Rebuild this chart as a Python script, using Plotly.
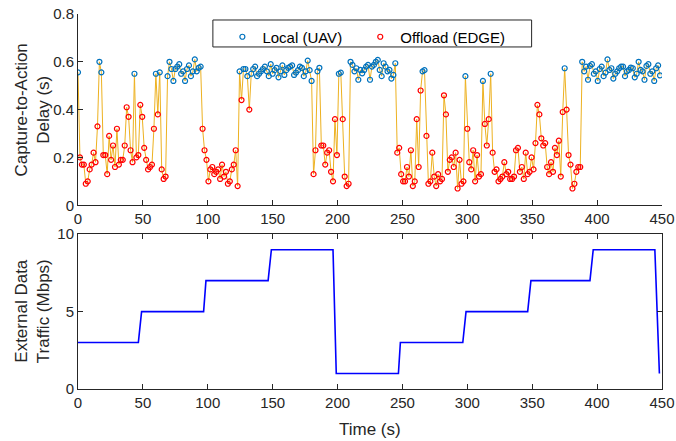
import plotly.graph_objects as go

# ---------------- data ----------------
# Capture-to-action delay (s), sampled every 1.5 s
delay = [
    0.556, 0.20, 0.17, 0.17, 0.09, 0.10, 0.15, 0.17, 0.22, 0.18,
    0.33, 0.60, 0.556, 0.21, 0.21, 0.13, 0.29, 0.19, 0.25, 0.16,
    0.32, 0.17, 0.19, 0.19, 0.25, 0.41, 0.37, 0.23, 0.18, 0.55,
    0.20, 0.21, 0.42, 0.37, 0.24, 0.19, 0.15, 0.16, 0.17, 0.32,
    0.55, 0.38, 0.556, 0.15, 0.11, 0.12, 0.54, 0.60,
    0.57, 0.52, 0.57, 0.58, 0.59, 0.55, 0.56, 0.52, 0.57, 0.585, 0.54, 0.56, 0.61, 0.56, 0.575, 0.58,
    0.32, 0.23, 0.19, 0.10, 0.15, 0.16, 0.13, 0.14, 0.15, 0.11, 0.17, 0.12, 0.14, 0.09, 0.10, 0.15, 0.17, 0.23, 0.08,
    0.56, 0.44, 0.57, 0.57, 0.54, 0.40, 0.55, 0.57, 0.58, 0.54, 0.55, 0.56, 0.57, 0.58, 0.56, 0.54,
    0.59, 0.55, 0.565, 0.575, 0.535, 0.56, 0.585, 0.545, 0.565, 0.575, 0.58, 0.585, 0.545, 0.555, 0.565,
    0.58, 0.575, 0.54, 0.56, 0.605, 0.565, 0.52,
    0.13, 0.23, 0.56, 0.575, 0.25, 0.25, 0.17, 0.22, 0.23, 0.14, 0.10, 0.36, 0.21, 0.55, 0.555, 0.36, 0.12, 0.08, 0.09,
    0.60, 0.587, 0.56, 0.573, 0.525, 0.566, 0.552, 0.566, 0.58, 0.587, 0.525, 0.58, 0.587, 0.60, 0.608,
    0.566, 0.54, 0.594, 0.58, 0.56, 0.566, 0.53, 0.545, 0.594,
    0.22, 0.24, 0.13, 0.10, 0.10, 0.16, 0.12, 0.23, 0.08, 0.10,
    0.36, 0.16, 0.48, 0.56, 0.565, 0.29, 0.09, 0.10, 0.22, 0.12,
    0.08, 0.13, 0.10, 0.11, 0.46, 0.38, 0.14, 0.19, 0.20, 0.16,
    0.22, 0.07, 0.19, 0.09, 0.10, 0.54, 0.32, 0.18, 0.15, 0.23,
    0.10, 0.21, 0.12,
    0.13, 0.52, 0.34, 0.25, 0.36, 0.55,
    0.22, 0.14, 0.15, 0.10, 0.11, 0.12, 0.18, 0.13, 0.14, 0.11,
    0.11, 0.12, 0.23, 0.24, 0.14, 0.16, 0.11, 0.22, 0.13, 0.14,
    0.20, 0.15, 0.26, 0.42, 0.38, 0.28, 0.25, 0.26, 0.16, 0.13,
    0.18, 0.14, 0.24, 0.21, 0.27, 0.12, 0.39, 0.573, 0.40, 0.21,
    0.17, 0.07, 0.09, 0.14, 0.16, 0.16,
    0.60, 0.56, 0.58, 0.525, 0.583, 0.59, 0.55, 0.56, 0.52, 0.57,
    0.58, 0.54, 0.555, 0.61, 0.566, 0.573, 0.53, 0.55, 0.56, 0.573,
    0.58, 0.58, 0.54, 0.56, 0.566, 0.576, 0.573, 0.535, 0.55, 0.60,
    0.566, 0.56, 0.525, 0.583, 0.59, 0.55, 0.56, 0.52, 0.573, 0.585,
    0.543,
]
sample_period = 1.5
time = [i * sample_period for i in range(len(delay))]
local_threshold = 0.5   # points above this are processed locally (UAV)

# External data traffic (Mbps)
traffic_time = [0, 46.5, 49, 96.8, 98.6, 146.5, 149, 196.5, 199, 246.9, 248.4,
                296.5, 299, 346.5, 349, 394.5, 397, 444.5, 448]
traffic_mbps = [3, 3, 5, 5, 7, 7, 9, 9, 1, 1, 3, 3, 5, 5, 7, 7, 9, 9, 1]

x_ticks = list(range(0, 451, 50))

# ---------------- derived ----------------
local_t = [t for t, v in zip(time, delay) if v > local_threshold]
local_v = [v for v in delay if v > local_threshold]
off_t = [t for t, v in zip(time, delay) if v <= local_threshold]
off_v = [v for v in delay if v <= local_threshold]

W, H = 676, 441
ML, MR, MT, MB = 77.5, 14, 14, 51.5
PW, PH = W - ML - MR, H - MT - MB
FONT = "Liberation Sans, Arial, sans-serif"
AX = "#262626"

def px_x(p):
    return (p - ML) / PW

def px_y(p):
    return (H - MB - p) / PH

fig = go.Figure()

fig.add_trace(go.Scatter(x=time, y=delay, mode="lines",
                         line=dict(color="#EDB120", width=1),
                         showlegend=False, hoverinfo="skip",
                         xaxis="x", yaxis="y"))
fig.add_trace(go.Scatter(x=local_t, y=local_v, mode="markers", name="Local (UAV)",
                         marker=dict(symbol="circle-open", size=5, color="#0072BD",
                                     line=dict(width=1.2, color="#0072BD")),
                         legend="legend", xaxis="x", yaxis="y"))
fig.add_trace(go.Scatter(x=off_t, y=off_v, mode="markers", name="Offload (EDGE)",
                         marker=dict(symbol="circle-open", size=5, color="#FF0000",
                                     line=dict(width=1.2, color="#FF0000")),
                         legend="legend2", xaxis="x", yaxis="y"))
fig.add_trace(go.Scatter(x=traffic_time, y=traffic_mbps, mode="lines",
                         line=dict(color="#0000FF", width=1.6),
                         showlegend=False, xaxis="x2", yaxis="y2"))

common_x = dict(range=[0, 450], tickvals=x_ticks, ticks="inside", ticklen=5,
                tickcolor=AX, showline=True, linecolor=AX, linewidth=1,
                showgrid=False, zeroline=False, domain=[0, 1], automargin=False,
                tickfont=dict(family=FONT, size=15, color=AX))
common_y = dict(ticks="inside", ticklen=5, tickcolor=AX, showline=True,
                linecolor=AX, linewidth=1, showgrid=False, zeroline=False,
                automargin=False,
                tickfont=dict(family=FONT, size=15, color=AX))

legend_common = dict(orientation="h", y=px_y(20.5), xanchor="left", yanchor="top",
                     bgcolor="rgba(0,0,0,0)", borderwidth=0,
                     font=dict(family=FONT, size=15, color="black"),
                     itemsizing="trace")

fig.update_layout(
    width=W, height=H,
    margin=dict(l=ML, r=MR, t=MT, b=MB, pad=0, autoexpand=False),
    paper_bgcolor="white", plot_bgcolor="white",
    font=dict(family=FONT, size=15, color=AX),
    xaxis=dict(anchor="y", **common_x),
    yaxis=dict(anchor="x", domain=[px_y(205.5), 1], range=[0, 0.8],
               tickvals=[0, 0.2, 0.4, 0.6, 0.8], **common_y),
    xaxis2=dict(anchor="y2", mirror="ticks", **common_x),
    yaxis2=dict(anchor="x2", domain=[0, px_y(234.5)], range=[0, 10],
                tickvals=[0, 5, 10], mirror="ticks", **common_y),
    legend=dict(x=px_x(222), **legend_common),
    legend2=dict(x=px_x(360), **legend_common),
    shapes=[dict(type="rect", xref="paper", yref="paper",
                 x0=px_x(212.5), x1=px_x(531.5), y0=px_y(47), y1=px_y(20),
                 line=dict(color=AX, width=1), fillcolor="white", layer="above")],
    annotations=[
        dict(text="Capture-to-Action<br>Delay (s)", xref="paper", yref="paper",
             x=px_x(32), y=px_y(110), textangle=-90, showarrow=False,
             xanchor="center", yanchor="middle",
             font=dict(family=FONT, size=17, color=AX)),
        dict(text="External Data<br>Traffic (Mbps)", xref="paper", yref="paper",
             x=px_x(32), y=px_y(312), textangle=-90, showarrow=False,
             xanchor="center", yanchor="middle",
             font=dict(family=FONT, size=17, color=AX)),
        dict(text="Time (s)", xref="paper", yref="paper",
             x=px_x(370), y=px_y(430), showarrow=False,
             xanchor="center", yanchor="middle",
             font=dict(family=FONT, size=17, color=AX)),
    ],
)

fig.write_html("out.html",
               config={"displayModeBar": False},
               post_script="document.body.style.margin='0px';document.body.style.overflow='hidden';")
